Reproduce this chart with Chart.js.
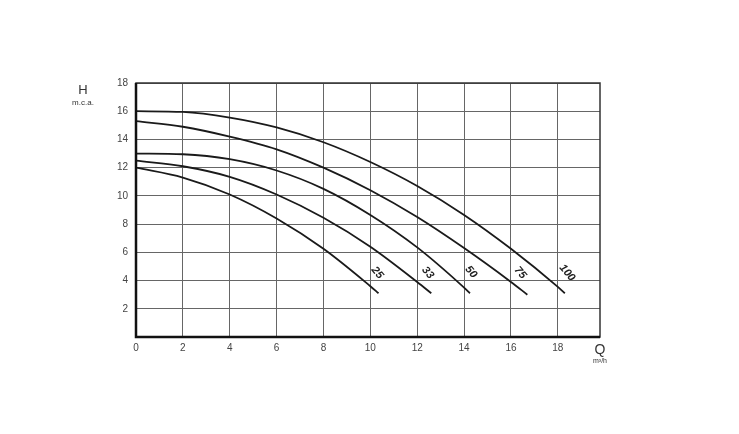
<!DOCTYPE html>
<html>
<head>
<meta charset="utf-8">
<script src="https://cdn.jsdelivr.net/npm/chart.js@4.4.1/dist/chart.umd.min.js"></script>
<style>
html,body{margin:0;padding:0;background:#fff;}
#wrap{width:739px;height:434px;}
</style>
</head>
<body>
<div id="wrap"><canvas id="c" width="739" height="434"></canvas></div>
<script>
// Curve names
const curveNames = ['25', '33', '50', '75', '100'];
// Flow Q (m³/h) per curve
const q25  = [0, 2, 4, 6, 8, 10, 10.35];
const q33  = [0, 2, 4, 6, 8, 10, 12, 12.6];
const q50  = [0, 2, 4, 6, 8, 10, 12, 14, 14.25];
const q75  = [0, 2, 4, 6, 8, 10, 12, 14, 16, 16.7];
const q100 = [0, 2, 4, 6, 8, 10, 12, 14, 16, 18, 18.3];
// Head H (m.c.a.) per curve
const h25  = [12.0, 11.3, 10.1, 8.4, 6.25, 3.6, 3.1];
const h33  = [12.5, 12.1, 11.35, 10.1, 8.45, 6.4, 3.9, 3.1];
const h50  = [13.0, 12.95, 12.6, 11.8, 10.5, 8.65, 6.35, 3.5, 3.1];
const h75  = [15.3, 14.9, 14.2, 13.3, 12.0, 10.4, 8.5, 6.3, 3.9, 3.0];
const h100 = [16.0, 15.95, 15.55, 14.85, 13.8, 12.4, 10.7, 8.65, 6.25, 3.55, 3.1];
// Curve label anchors (data coordinates)
const labelQ = [10.3, 12.45, 14.3, 16.4, 18.4];
const labelH = [4.55, 4.55, 4.6, 4.55, 4.55];
// Axis ticks
const xTicks = [0, 2, 4, 6, 8, 10, 12, 14, 16, 18];
const yTicks = [2, 4, 6, 8, 10, 12, 14, 16, 18];
const xMax = 19.8;

const allQ = [q25, q33, q50, q75, q100];
const allH = [h25, h33, h50, h75, h100];

const datasets = allQ.map((qs, i) => ({
  label: curveNames[i],
  data: qs.map((q, j) => ({x: q, y: allH[i][j]})),
  borderColor: '#1a1a1a',
  borderWidth: 1.8,
  pointRadius: 0,
  showLine: true,
  fill: false,
  cubicInterpolationMode: 'monotone'
}));

const extras = {
  id: 'extras',
  afterDraw(chart) {
    const ctx = chart.ctx;
    const a = chart.chartArea;
    const xs = chart.scales.x, ys = chart.scales.y;
    ctx.save();
    // frame
    ctx.strokeStyle = '#333';
    ctx.lineWidth = 1.5;
    ctx.strokeRect(a.left, a.top, a.right - a.left, a.bottom - a.top);
    ctx.strokeStyle = '#111';
    ctx.lineWidth = 2.5;
    ctx.beginPath();
    ctx.moveTo(a.left, a.top);
    ctx.lineTo(a.left, a.bottom);
    ctx.lineTo(a.right, a.bottom);
    ctx.stroke();
    // axis titles
    ctx.fillStyle = '#333';
    ctx.textAlign = 'center';
    ctx.textBaseline = 'middle';
    ctx.font = '13px "Liberation Sans", Arial, sans-serif';
    ctx.fillText('H', 83, 90);
    ctx.font = '8px "Liberation Sans", Arial, sans-serif';
    ctx.fillText('m.c.a.', 83, 103);
    ctx.font = '14px "Liberation Sans", Arial, sans-serif';
    ctx.fillText('Q', a.right, 350);
    ctx.font = '7px "Liberation Sans", Arial, sans-serif';
    ctx.fillText('m³/h', a.right, 361);
    // curve labels
    ctx.fillStyle = '#222';
    ctx.font = 'italic bold 11px "Liberation Sans", Arial, sans-serif';
    curveNames.forEach((n, i) => {
      const px = xs.getPixelForValue(labelQ[i]);
      const py = ys.getPixelForValue(labelH[i]);
      ctx.save();
      ctx.translate(px, py);
      ctx.rotate(50 * Math.PI / 180);
      ctx.fillText(n, 0, 0);
      ctx.restore();
    });
    ctx.restore();
  }
};

new Chart(document.getElementById('c'), {
  type: 'scatter',
  data: { datasets },
  options: {
    responsive: false,
    animation: false,
    events: [],
    layout: { padding: { left: 0, right: 139, top: 83, bottom: 77 } },
    plugins: { legend: { display: false }, tooltip: { enabled: false } },
    scales: {
      x: {
        type: 'linear', min: 0, max: xMax,
        afterBuildTicks(s) { s.ticks = xTicks.map(v => ({value: v})); },
        afterFit(s) { s.height = 20; },
        ticks: {
          color: '#444', padding: 5,
          font: { size: 10, family: '"Liberation Sans", Arial, sans-serif' },
          callback: v => String(v)
        },
        grid: { color: '#666', lineWidth: 1, drawTicks: false },
        border: { display: false }
      },
      y: {
        type: 'linear', min: 0, max: 18,
        afterBuildTicks(s) { s.ticks = [0].concat(yTicks).map(v => ({value: v})); },
        afterFit(s) { s.width = 136; },
        ticks: {
          color: '#444', padding: 8,
          font: { size: 10, family: '"Liberation Sans", Arial, sans-serif' },
          callback: v => (yTicks.includes(v) ? String(v) : '')
        },
        grid: { color: '#666', lineWidth: 1, drawTicks: false },
        border: { display: false }
      }
    }
  },
  plugins: [extras]
});
</script>
</body>
</html>
